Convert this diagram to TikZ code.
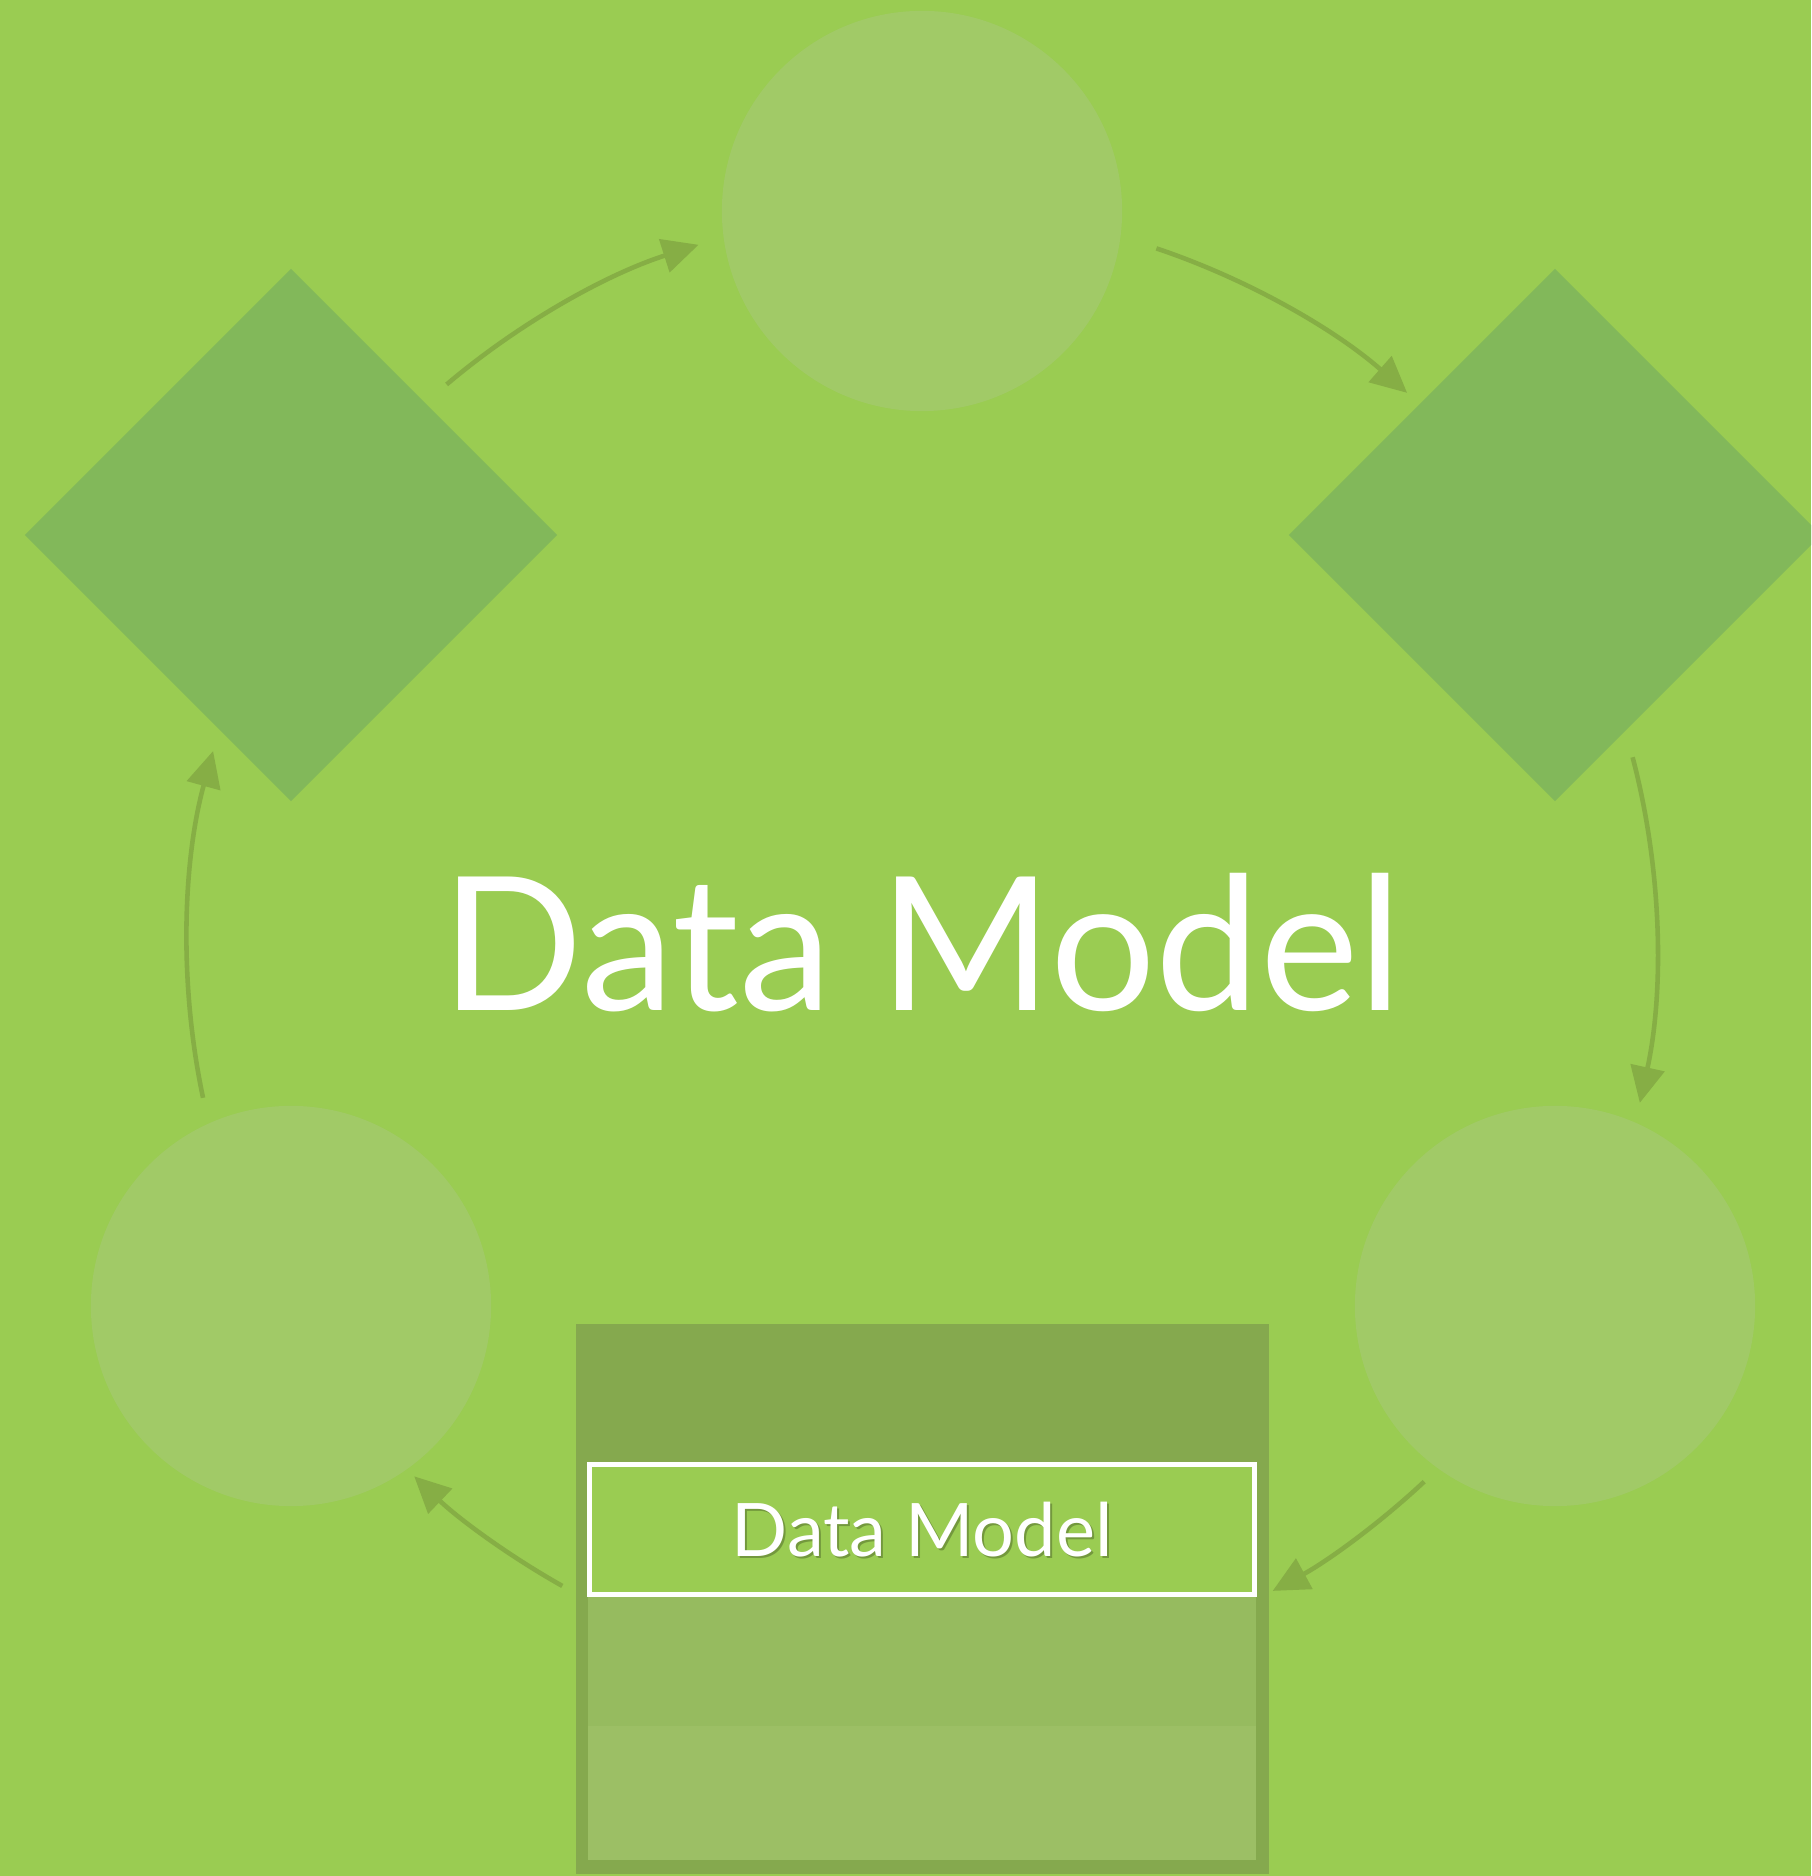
\documentclass[tikz,border=0pt]{standalone}
\usepackage{fontspec}
\setmainfont{Lato}
\usetikzlibrary{shapes.geometric}
\usetikzlibrary{arrows.meta}
\usetikzlibrary{calc}
\definecolor{leaf}{HTML}{9ACC52}
\definecolor{pale}{HTML}{A1CA67}
\definecolor{moss}{HTML}{82B85A}
\definecolor{olive}{HTML}{86AE45}
\definecolor{frame}{HTML}{85A94E}
\definecolor{bandA}{HTML}{96BB5F}
\definecolor{bandB}{HTML}{9CBF65}
\tikzset{x=0.01cm, y=0.01cm,
    every node/.style={inner sep=0pt, outer sep=0pt},
    stage/.style={
        circle,
        fill=pale,
        minimum size=4cm},
    gate/.style={
        diamond,
        aspect=1,
        fill=moss,
        minimum size=5.32cm},
    every edge/.style={
        draw,
        olive,
        line width=1.3pt,
        looseness=0.85,
        -{Triangle[length=0.36cm,width=0.34cm]}}}

\begin{document}
\begin{tikzpicture}
        \path[use as bounding box, fill=leaf] (0,0) rectangle (1811,1876);
        \clip (0,0) rectangle (1811,1876);

        \node[stage] (ctop) at (922,1665) {};
        \node[gate] (dleft) at (291,1341) {};
        \node[gate] (dright) at (1555,1341) {};
        \node[stage] (cleft) at (291,570) {};
        \node[stage] (cright) at (1555,570) {};

        \node[white, font=\fontsize{53}{60}\selectfont, anchor=base] (title) at (922,865) {Data Model};

        % store with the data model slot
        \node[fill=frame, minimum width=6.93cm, minimum height=5.5cm] (store) at (922.5,277) {};
        \fill[bandA] (588,150) rectangle (1256,279);
        \fill[bandB] (588,16) rectangle (1256,150);
        \node[draw=white, line width=1.4pt, fill=leaf, minimum width=6.65cm, minimum height=1.30cm] (slot) at (922,346.5) {};
        \node[black, opacity=0.25, font=\fontsize{21}{24}\selectfont, anchor=base] (shade) at (924,317) {Data Model};
        \node[white, font=\fontsize{21}{24}\selectfont, anchor=base] (label) at (922,319) {Data Model};

        % arrows round the ring
        \coordinate (hub) at (922,931);
        \coordinate (a1) at ($(hub)+(130.3:735)$);
        \coordinate (b1) at ($(hub)+(107.7:735)$);
        \coordinate (a2) at ($(hub)+(71.4:735)$);
        \coordinate (b2) at ($(hub)+(48.7:735)$);
        \coordinate (a3) at ($(hub)+(14.8:735)$);
        \coordinate (b3) at ($(hub)+(-12.4:735)$);
        \coordinate (a4) at ($(hub)+(-46.9:735)$);
        \coordinate (b4) at ($(hub)+(-61.5:735)$);
        \coordinate (a5) at ($(hub)+(-119.3:735)$);
        \coordinate (b5) at ($(hub)+(-133.7:735)$);
        \coordinate (a6) at ($(hub)+(192:735)$);
        \coordinate (b6) at ($(hub)+(164.7:735)$);

        \draw (a1) edge[bend left=11.3] (b1);
        \draw (a2) edge[bend left=11.4] (b2);
        \draw (a3) edge[bend left=13.6] (b3);
        \draw (a4) edge[bend left=7.3] (b4);
        \draw (a5) edge[bend left=7.2] (b5);
        \draw (a6) edge[bend left=13.7] (b6);
    \end{tikzpicture}
\end{document}
